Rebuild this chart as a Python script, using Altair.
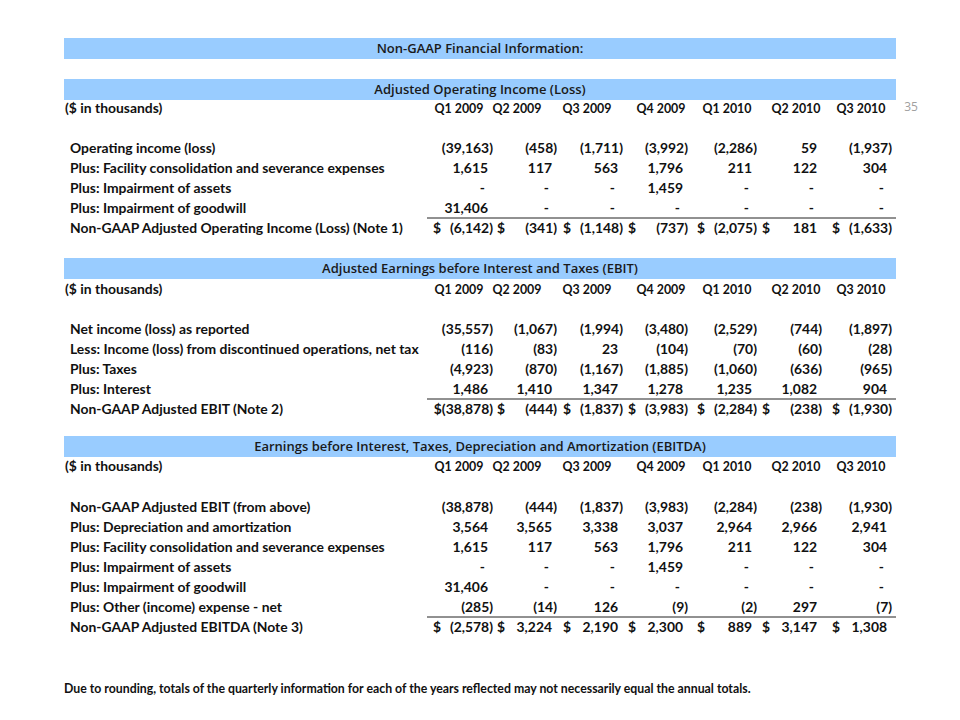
import altair as alt
import pandas as pd

# ---------------- data ----------------
quarters = ["Q1 2009", "Q2 2009", "Q3 2009", "Q4 2009", "Q1 2010", "Q2 2010", "Q3 2010"]

band_titles = [
    "Non-GAAP Financial Information:",
    "Adjusted Operating Income (Loss)",
    "Adjusted Earnings before Interest and Taxes (EBIT)",
    "Earnings before Interest, Taxes, Depreciation and Amortization (EBITDA)",
]
unit_label = "($ in thousands)"

s1_labels = [
    "Operating income (loss)",
    "Plus: Facility consolidation and severance expenses",
    "Plus: Impairment of assets",
    "Plus: Impairment of goodwill",
    "Non-GAAP Adjusted Operating Income (Loss) (Note 1)",
]
s1_values = [
    ["(39,163)", "(458)", "(1,711)", "(3,992)", "(2,286)", "59", "(1,937)"],
    ["1,615", "117", "563", "1,796", "211", "122", "304"],
    ["-", "-", "-", "1,459", "-", "-", "-"],
    ["31,406", "-", "-", "-", "-", "-", "-"],
    ["(6,142)", "(341)", "(1,148)", "(737)", "(2,075)", "181", "(1,633)"],
]

s2_labels = [
    "Net income (loss) as reported",
    "Less: Income (loss) from discontinued operations, net tax",
    "Plus: Taxes",
    "Plus: Interest",
    "Non-GAAP Adjusted EBIT (Note 2)",
]
s2_values = [
    ["(35,557)", "(1,067)", "(1,994)", "(3,480)", "(2,529)", "(744)", "(1,897)"],
    ["(116)", "(83)", "23", "(104)", "(70)", "(60)", "(28)"],
    ["(4,923)", "(870)", "(1,167)", "(1,885)", "(1,060)", "(636)", "(965)"],
    ["1,486", "1,410", "1,347", "1,278", "1,235", "1,082", "904"],
    ["$(38,878)", "(444)", "(1,837)", "(3,983)", "(2,284)", "(238)", "(1,930)"],
]

s3_labels = [
    "Non-GAAP Adjusted EBIT (from above)",
    "Plus: Depreciation and amortization",
    "Plus: Facility consolidation and severance expenses",
    "Plus: Impairment of assets",
    "Plus: Impairment of goodwill",
    "Plus: Other (income) expense - net",
    "Non-GAAP Adjusted EBITDA (Note 3)",
]
s3_values = [
    ["(38,878)", "(444)", "(1,837)", "(3,983)", "(2,284)", "(238)", "(1,930)"],
    ["3,564", "3,565", "3,338", "3,037", "2,964", "2,966", "2,941"],
    ["1,615", "117", "563", "1,796", "211", "122", "304"],
    ["-", "-", "-", "1,459", "-", "-", "-"],
    ["31,406", "-", "-", "-", "-", "-", "-"],
    ["(285)", "(14)", "126", "(9)", "(2)", "297", "(7)"],
    ["(2,578)", "3,224", "2,190", "2,300", "889", "3,147", "1,308"],
]

footnote = "Due to rounding, totals of the quarterly information for each of the years reflected may not necessarily equal the annual totals."
page_number = "35"

# ---------------- layout (pixel coordinates of the page) ----------------
W, H = 944, 704
col_right = [493, 557, 623, 688, 757, 822, 892]
head_center = [459, 517, 587, 661, 727, 796, 861]
band_x = (64, 896)
band_top = [38, 79, 258, 436]
band_h = 21
sec_header_y = [109, 290, 467]
sec_first_row = [149, 330, 508]
pitch = 20
label_x = 70
unit_x = 65
rule_x = (427, 896)
dollar_off = 60

sections = [(s1_labels, s1_values), (s2_labels, s2_values), (s3_labels, s3_values)]

bands, band_text, labels, headers, nums, dollars, rules = [], [], [], [], [], [], []
for i, t in enumerate(band_titles):
    bands.append({"x": band_x[0], "x2": band_x[1], "y": band_top[i], "y2": band_top[i] + band_h})
    band_text.append({"x": (band_x[0] + band_x[1]) / 2, "y": band_top[i] + band_h / 2, "t": t})

for s, (labs, vals) in enumerate(sections):
    labels.append({"x": unit_x, "y": sec_header_y[s], "t": unit_label})
    for c, q in enumerate(quarters):
        headers.append({"x": head_center[c], "y": sec_header_y[s], "t": q})
    for r, lab in enumerate(labs):
        y = sec_first_row[s] + r * pitch
        labels.append({"x": label_x, "y": y, "t": lab})
        total = r == len(labs) - 1
        for c, v in enumerate(vals[r]):
            R = col_right[c]
            if v.endswith(")"):
                x = R
            elif v == "-":
                x = R - 8
            else:
                x = R - 5
            nums.append({"x": x, "y": y, "t": v})
            if total and not v.startswith("$"):
                dollars.append({"x": R - dollar_off, "y": y, "t": "$"})
        if total:
            rules.append({"x": rule_x[0], "x2": rule_x[1], "y": y - 11})

FONT = "Lato, Roboto, sans-serif"
TITLE_FONT = "Open Sans, Lato, sans-serif"
INK = "#111111"
FS = 13.9
FW = "bold"

xs = alt.Scale(domain=[8, 8 + W], nice=False, zero=False)
ys = alt.Scale(domain=[8, 8 + H], nice=False, zero=False, reverse=True)
X = lambda f="x": alt.X(f + ":Q", scale=xs, axis=None)
Y = lambda f="y": alt.Y(f + ":Q", scale=ys, axis=None)

band_layer = alt.Chart(pd.DataFrame(bands)).mark_rect(color="#99ccff").encode(
    x=X(), x2="x2:Q", y=Y(), y2="y2:Q")
band_txt = alt.Chart(pd.DataFrame(band_text)).mark_text(
    align="center", baseline="middle", font=TITLE_FONT, fontSize=13, fontWeight=600, color="#1a1a1a"
).encode(x=X(), y=Y(), text="t:N")
label_layer = alt.Chart(pd.DataFrame(labels)).mark_text(
    align="left", baseline="middle", font=FONT, fontSize=FS, fontWeight=FW, color=INK
).encode(x=X(), y=Y(), text="t:N")
head_layer = alt.Chart(pd.DataFrame(headers)).mark_text(
    align="center", baseline="middle", font=FONT, fontSize=12.4, fontWeight=FW, color=INK
).encode(x=X(), y=Y(), text="t:N")
num_layer = alt.Chart(pd.DataFrame(nums)).mark_text(
    align="right", baseline="middle", font=FONT, fontSize=FS, fontWeight=FW, color=INK
).encode(x=X(), y=Y(), text="t:N")
dollar_layer = alt.Chart(pd.DataFrame(dollars)).mark_text(
    align="left", baseline="middle", font=FONT, fontSize=FS, fontWeight=FW, color=INK
).encode(x=X(), y=Y(), text="t:N")
rule_layer = alt.Chart(pd.DataFrame(rules)).mark_rule(color="#222222", strokeWidth=1).encode(
    x=X(), x2="x2:Q", y=Y())
foot_layer = alt.Chart(pd.DataFrame([{"x": 64, "y": 689, "t": footnote}])).mark_text(
    align="left", baseline="middle", font=FONT, fontSize=12.3, fontWeight=FW, color=INK
).encode(x=X(), y=Y(), text="t:N")
page_layer = alt.Chart(pd.DataFrame([{"x": 911, "y": 107, "t": page_number}])).mark_text(
    align="center", baseline="middle", font="Open Sans, sans-serif", fontSize=12, color="#a0a0a0"
).encode(x=X(), y=Y(), text="t:N")

chart = alt.layer(
    band_layer, band_txt, rule_layer, label_layer, head_layer, num_layer, dollar_layer, foot_layer, page_layer
).properties(
    width=W, height=H, autosize=alt.AutoSizeParams(type="none"), padding=0, background="white"
).configure_view(stroke=None)

chart.save("out.html", embed_options={"renderer": "svg", "actions": False})
